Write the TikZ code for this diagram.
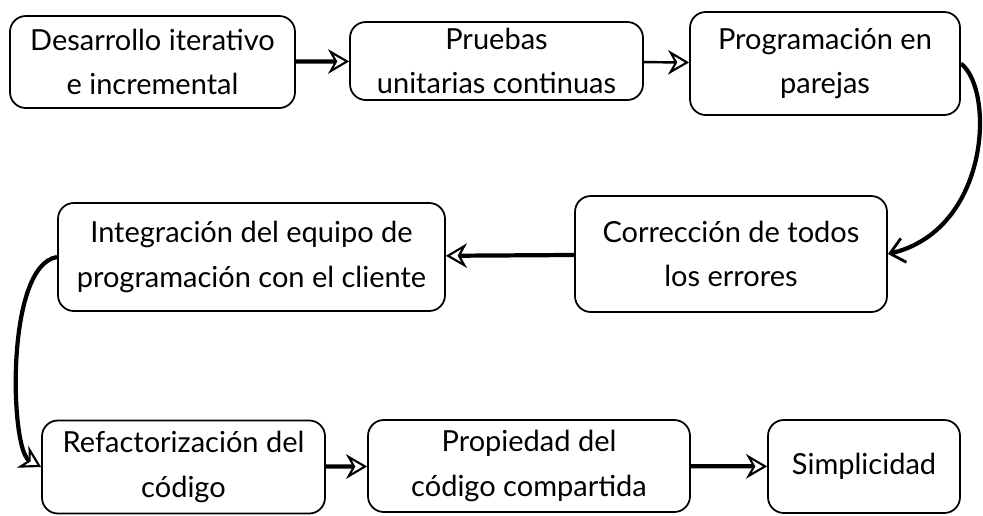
\documentclass[tikz,border=0pt]{standalone}
\usepackage{fontspec}
\setmainfont{Lato}
\usetikzlibrary{arrows.meta}
\begin{document}
\begin{tikzpicture}[>=Stealth,font=\fontsize{16.5}{25.5}\selectfont,
		caja/.style={draw,line width=1pt,rounded corners=9pt,align=center,inner sep=0pt},
		flecha/.style={line width=2.4pt,-{Stealth[open,length=12pt,width=14pt,line width=1.2pt]}},
		curva/.style={line width=2.4pt,-{Straight Barb[length=8pt,width=14pt,line width=1.6pt]}}]
				\useasboundingbox (0,0) rectangle (19.66,-10.3);
				\node[caja,minimum width=5.7cm,minimum height=1.84cm] (des) at (3.05,-1.24) {Desarrollo iterativo\\e incremental};
				\node[caja,minimum width=5.86cm,minimum height=1.56cm] (pru) at (9.93,-1.22) {Pruebas\\unitarias continuas};
				\node[caja,minimum width=5.4cm,minimum height=2.06cm] (pro) at (16.5,-1.27) {Programación en\\parejas};
				\node[caja,minimum width=6.24cm,minimum height=2.32cm] (cor) at (14.62,-5.08) {Corrección de todos\\los errores};
				\node[caja,minimum width=7.74cm,minimum height=2.16cm] (int) at (5.03,-5.14) {Integración del equipo de\\programación con el cliente};
				\node[caja,minimum width=5.66cm,minimum height=1.86cm] (ref) at (3.67,-9.34) {Refactorización del\\código};
				\node[caja,minimum width=6.44cm,minimum height=1.84cm] (prop) at (10.58,-9.32) {Propiedad del\\código compartida};
				\node[caja,minimum width=3.84cm,minimum height=1.86cm] (sim) at (17.28,-9.33) {Simplicidad};
				\draw[flecha] (des) -- (pru);
				\draw[flecha,line width=1.4pt] (pru) -- (pro);
				\draw[curva] (pro.east) .. controls (19.9,-1.8) and (19.8,-4.6) .. (cor.east);
				\draw[flecha] (cor) -- (int);
				\draw[flecha] (int.west) .. controls (0.1,-5.3) and (0.2,-9.0) .. (ref.west);
				\draw[flecha] (ref) -- (prop);
				\draw[flecha] (prop) -- (sim);
			\end{tikzpicture}
\end{document}
